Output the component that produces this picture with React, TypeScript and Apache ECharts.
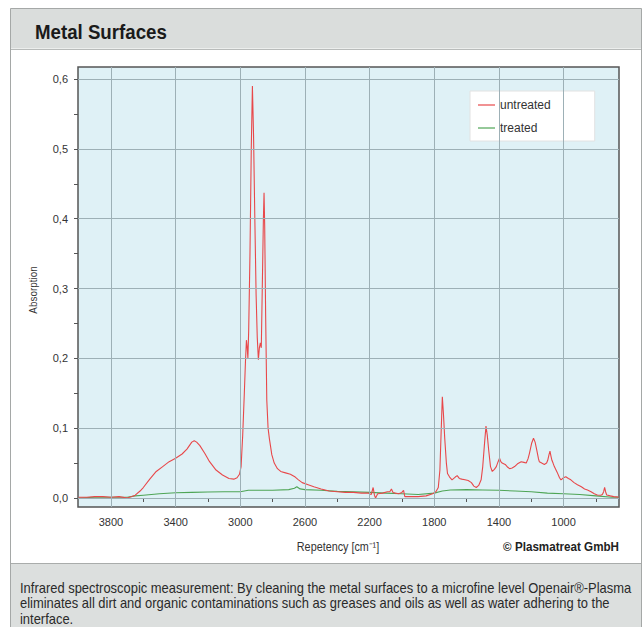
import React, { useEffect, useRef } from "react";
import * as echarts from "echarts";

const redWn = [4000,3950,3900,3850,3800,3750,3700,3670,3650,3620,3600,3560,3520,3480,3440,3400,3360,3330,3300,3285,3270,3250,3220,3190,3150,3110,3070,3040,3020,3005,2995,2985,2975,2968,2962,2957,2953,2948,2940,2932,2925,2918,2910,2902,2895,2888,2882,2876,2870,2864,2857,2853,2849,2843,2836,2828,2820,2805,2790,2770,2750,2720,2690,2660,2640,2617,2580,2545,2500,2450,2400,2350,2300,2250,2210,2190,2178,2170,2163,2150,2120,2090,2075,2065,2055,2040,2020,2000,1990,1982,1950,1900,1850,1810,1790,1775,1765,1758,1750,1743,1735,1725,1718,1705,1690,1670,1658,1645,1630,1610,1590,1570,1555,1540,1525,1510,1500,1490,1480,1472,1463,1452,1441,1428,1416,1405,1396,1388,1380,1361,1345,1334,1318,1303,1285,1262,1245,1231,1220,1211,1198,1186,1176,1166,1155,1150,1135,1119,1105,1098,1090,1084,1078,1072,1065,1057,1040,1025,1016,1000,986,970,955,935,914,890,870,852,830,810,791,770,760,752,746,740,733,710,690,660];
const redAbs = [0.001,0.001,0.002,0.002,0.001,0.002,0.0,0.002,0.004,0.010,0.015,0.027,0.038,0.045,0.052,0.057,0.063,0.070,0.080,0.082,0.080,0.075,0.064,0.052,0.040,0.033,0.028,0.027,0.029,0.034,0.045,0.090,0.150,0.195,0.226,0.215,0.200,0.240,0.350,0.500,0.590,0.520,0.400,0.290,0.230,0.198,0.215,0.222,0.215,0.300,0.400,0.437,0.390,0.260,0.140,0.100,0.085,0.062,0.050,0.042,0.038,0.036,0.034,0.030,0.026,0.022,0.019,0.016,0.013,0.010,0.009,0.008,0.008,0.007,0.007,0.005,0.015,0.004,0.0,0.006,0.007,0.009,0.009,0.013,0.008,0.007,0.006,0.008,0.011,0.002,0.002,0.002,0.003,0.006,0.009,0.015,0.040,0.090,0.145,0.120,0.085,0.050,0.035,0.030,0.026,0.030,0.032,0.028,0.027,0.026,0.025,0.022,0.017,0.015,0.018,0.026,0.045,0.075,0.103,0.090,0.068,0.045,0.038,0.041,0.045,0.052,0.057,0.052,0.050,0.048,0.044,0.042,0.043,0.045,0.049,0.052,0.051,0.050,0.056,0.064,0.078,0.0855,0.080,0.069,0.056,0.052,0.050,0.048,0.050,0.054,0.062,0.067,0.060,0.054,0.050,0.045,0.037,0.029,0.026,0.029,0.0305,0.028,0.026,0.022,0.019,0.016,0.013,0.0115,0.009,0.006,0.0043,0.004,0.005,0.009,0.0153,0.009,0.0043,0.003,0.002,0.0013];

const greenWn = [4000,3900,3800,3700,3650,3600,3500,3400,3300,3200,3100,3000,2950,2900,2800,2700,2665,2650,2630,2600,2500,2400,2300,2200,2100,2000,1900,1800,1750,1700,1600,1500,1400,1300,1200,1100,1000,900,800,700,660];
const greenAbs = [0.0,0.001,0.001,0.001,0.003,0.004,0.006,0.0075,0.008,0.0085,0.009,0.009,0.011,0.011,0.011,0.012,0.014,0.016,0.013,0.012,0.011,0.0095,0.009,0.008,0.007,0.006,0.005,0.007,0.010,0.0115,0.012,0.0115,0.011,0.010,0.009,0.007,0.006,0.005,0.003,0.001,0.001];

const xLabelValues = [3800,3400,3000,2600,2200,1800,1400,1000];
const xTickValues = [3800,3600,3400,3200,3000,2800,2600,2400,2200,2000,1800,1600,1400,1200,1000,800];
const yLabelValues = [0,0.1,0.2,0.3,0.4,0.5,0.6];
const yTickValues = [0,0.05,0.1,0.15,0.2,0.25,0.3,0.35,0.4,0.45,0.5,0.55,0.6];

const seriesNames = ["untreated", "treated"];
const titleText = "Metal Surfaces";
const xAxisName = "Repetency [cm⁻¹]";
const yAxisName = "Absorption";
const creditText = "© Plasmatreat GmbH";
const footerLines = [
  "Infrared spectroscopic measurement: By cleaning the metal surfaces to a microfine level Openair®-Plasma",
  "eliminates all dirt and organic contaminations such as greases and oils as well as water adhering to the",
  "interface.",
];

const SANS = "'Liberation Sans', Arial, sans-serif";

export default function App() {
  const ref = useRef<HTMLDivElement>(null);
  useEffect(() => {
    if (!ref.current) return;
    const chart = echarts.init(ref.current, null, { renderer: "svg" });
    const redData = redWn.map((w, i) => [w, redAbs[i]]);
    const greenData = greenWn.map((w, i) => [w, greenAbs[i]]);
    const gridColor = "#9db0b6";
    const red = "#e8484a";
    const green = "#4fa556";
    chart.setOption({
      animation: false,
      backgroundColor: "#ffffff",
      grid: {
        left: 78, top: 67, width: 541, height: 440,
        show: true, backgroundColor: "#dff1f6", borderColor: "#555", borderWidth: 1.5,
        containLabel: false,
      },
      legend: {
        data: [
          { name: seriesNames[0], icon: "rect", itemStyle: { color: red } },
          { name: seriesNames[1], icon: "rect", itemStyle: { color: green } },
        ],
        orient: "vertical",
        left: 470, top: 91,
        backgroundColor: "#ffffff",
        borderColor: "#e2e2e2", borderWidth: 1,
        padding: [8, 44, 7, 8],
        itemWidth: 17, itemHeight: 1.2, itemGap: 11, itemTextGap: 12,
        textStyle: { fontFamily: SANS, fontSize: 12, color: "#333" },
      },
      xAxis: {
        type: "value", inverse: true, min: 657, max: 4004,
        axisLine: { show: false },
        splitLine: { show: false },
        axisTick: { show: true, inside: false, length: 4, customValues: xTickValues, lineStyle: { color: "#555" } },
        axisLabel: {
          customValues: xLabelValues, margin: 9, fontFamily: SANS, fontSize: 11, color: "#333",
          formatter: (v: number) => String(Math.round(v)),
        },
      },
      yAxis: {
        type: "value", min: -0.0129, max: 0.6172,
        axisLine: { show: false },
        splitLine: { show: false },
        axisTick: { show: true, inside: false, length: 4, customValues: yTickValues, lineStyle: { color: "#555" } },
        axisLabel: {
          customValues: yLabelValues, margin: 10, fontFamily: SANS, fontSize: 11, color: "#333",
          formatter: (v: number) => v.toFixed(1).replace(".", ","),
        },
      },
      series: [
        {
          type: "line", name: "gridlines", data: [[4000, 0]], symbol: "none", z: 1,
          lineStyle: { opacity: 0 }, silent: true,
          markLine: {
            silent: true, symbol: "none", label: { show: false },
            lineStyle: { color: gridColor, type: "solid", width: 1 },
            data: [
              ...xLabelValues.map((v) => ({ xAxis: v })),
              ...yLabelValues.map((v) => ({ yAxis: v })),
            ],
          },
        },
        {
          type: "line", name: seriesNames[0], data: redData, symbol: "none", z: 3,
          lineStyle: { color: red, width: 1.1 }, itemStyle: { color: red },
        },
        {
          type: "line", name: seriesNames[1], data: greenData, symbol: "none", z: 2,
          lineStyle: { color: green, width: 1.1 }, itemStyle: { color: green },
        },
      ],
      graphic: [
        { type: "rect", z: -10, shape: { x: 10.5, y: 8.5, width: 631, height: 40 }, style: { fill: "#dadddc", stroke: "none" } },
        { type: "line", z: -9, shape: { x1: 10.5, y1: 49.5, x2: 642, y2: 49.5 }, style: { stroke: "#b8bbba", lineWidth: 1 } },
        { type: "rect", z: -10, shape: { x: 10.5, y: 564, width: 631, height: 70 }, style: { fill: "#dcdfde", stroke: "none" } },
        { type: "line", z: -9, shape: { x1: 10.5, y1: 563.5, x2: 642, y2: 563.5 }, style: { stroke: "#a9acab", lineWidth: 1 } },
        { type: "rect", z: -8, shape: { x: 10.5, y: 8.5, width: 631, height: 630 }, style: { fill: "none", stroke: "#a5a8a7", lineWidth: 1 } },
        { type: "text", x: 35, y: 32, scaleX: 0.89, style: { text: titleText, font: `bold 21px ${SANS}`, fill: "#1a1a1a", textVerticalAlign: "middle" } },
        { type: "text", x: 338, y: 547, scaleX: 0.9, style: { text: xAxisName, font: `12px ${SANS}`, fill: "#333", textAlign: "center", textVerticalAlign: "middle" } },
        { type: "text", x: 619, y: 547, scaleX: 0.97, style: { text: creditText, font: `bold 12px ${SANS}`, fill: "#222", textAlign: "right", textVerticalAlign: "middle" } },
        { type: "text", x: 33, y: 290, rotation: Math.PI / 2, scaleX: 0.9, style: { text: yAxisName, font: `11px ${SANS}`, fill: "#333", textAlign: "center", textVerticalAlign: "middle" } },
        ...footerLines.map((t, i) => ({
          type: "text", x: 20, y: 588 + i * 15.5, scaleX: 0.925,
          style: { text: t, font: `14px ${SANS}`, fill: "#2a2a2a", textVerticalAlign: "middle" },
        })),
      ],
    });
    return () => chart.dispose();
  }, []);
  return <div ref={ref} style={{ position: "fixed", left: 0, top: 0, width: 643, height: 627 }} />;
}
